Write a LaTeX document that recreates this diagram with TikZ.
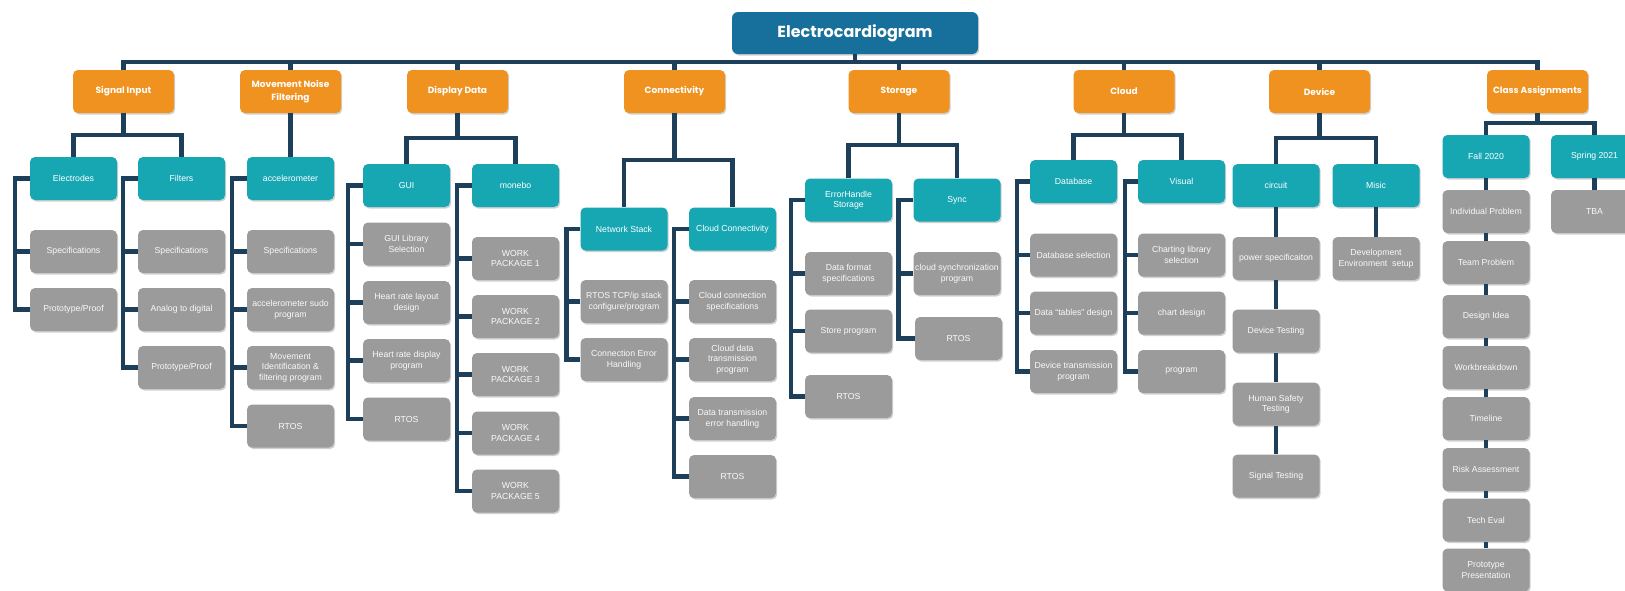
\documentclass[tikz,border=0pt]{standalone}
\usepackage{fontspec}
\setmainfont{Liberation Sans}
\newfontfamily\hdrfont{Poppins}
\usetikzlibrary{shadows,calc}
\definecolor{orng}{HTML}{F0921F}
\definecolor{tealc}{HTML}{17A7B3}
\definecolor{gry}{HTML}{9B9B9B}
\definecolor{navy}{HTML}{1E3F5A}
\definecolor{ttl}{HTML}{17709B}
\begin{document}
\begin{tikzpicture}[x=1pt,y=-1pt,
  box/.style={rounded corners=5pt, minimum width=87pt, minimum height=43pt, inner sep=1pt, align=center,
    text=white, font=\fontsize{8.7}{10.5}\selectfont,
    drop shadow={shadow xshift=1.2pt, shadow yshift=-1.5pt, opacity=0.3, fill=black!60}},
  hdr/.style={box, fill=orng, minimum width=101pt, font=\hdrfont\bfseries\fontsize{9}{12.5}\selectfont},
  sub/.style={box, fill=tealc},
  leaf/.style={box, fill=gry, text=white!95!gray},
  ttlbox/.style={box, fill=ttl, rounded corners=6pt, minimum width=246pt, minimum height=42pt,
    font=\hdrfont\bfseries\fontsize{16}{18}\selectfont},
  conn/.style={draw=navy, line width=4.5pt, line join=miter}]
\useasboundingbox (0,0) rectangle (1625,590);
\clip (0,0) rectangle (1625,590);
\fill[white] (0,0) rectangle (1625,590);

% title
\node[ttlbox] (ecg) at (855,33) {Electrocardiogram};

% headers
\node[hdr] (si) at (123.5,91.5) {Signal Input};
\node[hdr] (mn) at (290.5,91.5) {Movement Noise\\Filtering};
\node[hdr] (dd) at (457.5,91.5) {Display Data};
\node[hdr] (cn) at (674.5,91.5) {Connectivity};
\node[hdr] (st) at (899,91.5) {Storage};
\node[hdr] (cl) at (1124,91.5) {Cloud};
\node[hdr] (dv) at (1319.5,91.5) {Device};
\node[hdr] (ca) at (1537.5,91.5) {Class Assignments};

% second level
\node[sub] (el) at (73.5,178.5) {Electrodes};
\node[sub] (fi) at (181.5,178.5) {Filters};
\node[sub] (acc) at (290.5,178.5) {accelerometer};
\node[sub] (gui) at (406.5,185.5) {GUI};
\node[sub] (mon) at (515.5,185.5) {monebo};
\node[sub] (ns) at (624,229) {Network Stack};
\node[sub] (cc) at (732.5,229) {Cloud Connectivity};
\node[sub] (eh) at (848.5,200) {ErrorHandle\\Storage};
\node[sub] (sy) at (957,200) {Sync};
\node[sub] (db) at (1073.5,181.5) {Database};
\node[sub] (vi) at (1181.5,181.5) {Visual};
\node[sub] (ci) at (1276,185.5) {circuit};
\node[sub] (mi) at (1376,185.5) {Misic};
\node[sub] (fa) at (1486,156.5) {Fall 2020};
\node[sub] (sp) at (1594.5,156.5) {Spring 2021};

% leaves: Electrodes
\node[leaf] (el1) at (73.5,251.5) {Specifications};
\node[leaf] (el2) at (73.5,309.5) {Prototype/Proof};
% Filters
\node[leaf] (fi1) at (181.5,251.5) {Specifications};
\node[leaf] (fi2) at (181.5,309.5) {Analog to digital};
\node[leaf] (fi3) at (181.5,367.5) {Prototype/Proof};
% accelerometer
\node[leaf] (ac1) at (290.5,251.5) {Specifications};
\node[leaf] (ac2) at (290.5,309.5) {accelerometer sudo\\program};
\node[leaf] (ac3) at (290.5,367.5) {Movement\\Identification \&\\filtering program};
\node[leaf] (ac4) at (290.5,426) {RTOS};
% GUI
\node[leaf] (gu1) at (406.5,244) {GUI Library\\Selection};
\node[leaf] (gu2) at (406.5,302.5) {Heart rate layout\\design};
\node[leaf] (gu3) at (406.5,360.5) {Heart rate display\\program};
\node[leaf] (gu4) at (406.5,419) {RTOS};
% monebo
\node[leaf] (mo1) at (515.5,258.5) {WORK\\PACKAGE 1};
\node[leaf] (mo2) at (515.5,316.5) {WORK\\PACKAGE 2};
\node[leaf] (mo3) at (515.5,374.5) {WORK\\PACKAGE 3};
\node[leaf] (mo4) at (515.5,433) {WORK\\PACKAGE 4};
\node[leaf] (mo5) at (515.5,491) {WORK\\PACKAGE 5};
% Network Stack
\node[leaf] (ns1) at (624,301.5) {RTOS TCP/ip stack\\configure/program};
\node[leaf] (ns2) at (624,359.5) {Connection Error\\Handling};
% Cloud Connectivity
\node[leaf] (cc1) at (732.5,301.5) {Cloud connection\\specifications};
\node[leaf] (cc2) at (732.5,359.5) {Cloud data\\transmission\\program};
\node[leaf] (cc3) at (732.5,418.5) {Data transmission\\error handling};
\node[leaf] (cc4) at (732.5,476.5) {RTOS};
% ErrorHandle Storage
\node[leaf] (eh1) at (848.5,273.5) {Data format\\specifications};
\node[leaf] (eh2) at (848.5,331) {Store program};
\node[leaf] (eh3) at (848.5,396.5) {RTOS};
% Sync
\node[leaf] (sy1) at (957,273.5) {cloud synchronization\\program};
\node[leaf] (sy2) at (958.5,338.5) {RTOS};
% Database
\node[leaf] (db1) at (1073.5,255) {Database selection};
\node[leaf] (db2) at (1073.5,313) {Data “tables” design};
\node[leaf] (db3) at (1073.5,371.5) {Device transmission\\program};
% Visual
\node[leaf] (vi1) at (1181.5,255) {Charting library\\selection};
\node[leaf] (vi2) at (1181.5,313) {chart design};
\node[leaf] (vi3) at (1181.5,371.5) {program};
% circuit
\node[leaf] (ci1) at (1276,258.5) {power specificaiton};
\node[leaf] (ci2) at (1276,331) {Device Testing};
\node[leaf] (ci3) at (1276,404) {Human Safety\\Testing};
\node[leaf] (ci4) at (1276,476) {Signal Testing};
% Misic
\node[leaf] (mi1) at (1376,258.5) {Development\\Environment\ \ setup};
% Fall 2020
\node[leaf] (fa1) at (1486,211.5) {Individual Problem};
\node[leaf] (fa2) at (1486,262.5) {Team Problem};
\node[leaf] (fa3) at (1486,316.5) {Design Idea};
\node[leaf] (fa4) at (1486,367.5) {Workbreakdown};
\node[leaf] (fa5) at (1486,418.5) {Timeline};
\node[leaf] (fa6) at (1486,469.5) {Risk Assessment};
\node[leaf] (fa7) at (1486,520) {Tech Eval};
\node[leaf] (fa8) at (1486,570) {Prototype\\Presentation};
% Spring 2021
\node[leaf] (sp1) at (1594.5,211.5) {TBA};

% ---------- connectors ----------
\coordinate (bus) at (0,62);
\draw[conn] (si.north) -- (si.north|-bus) -- (ca.north|-bus) -- (ca.north);
\foreach \n in {mn,dd,cn,st,cl,dv} \draw[conn] (\n.north) -- (\n.north|-bus);
\draw[conn] (ecg.south) -- (ecg.south|-bus);

% header -> children
\draw[conn] (si.south) -- (si.south|-0,135);
\draw[conn] (el.north) |- (si.south|-0,135) -| (fi.north);
\draw[conn] (mn.south) -- (acc.north);
\draw[conn] (dd.south) -- (dd.south|-0,138);
\draw[conn] (gui.north) |- (dd.south|-0,138) -| (mon.north);
\draw[conn] (cn.south) -- (cn.south|-0,160);
\draw[conn] (ns.north) |- (cn.south|-0,160) -| (cc.north);
\draw[conn] (st.south) -- (st.south|-0,145);
\draw[conn] (eh.north) |- (st.south|-0,145) -| (sy.north);
\draw[conn] (cl.south) -- (cl.south|-0,135);
\draw[conn] (db.north) |- (cl.south|-0,135) -| (vi.north);
\draw[conn] (dv.south) -- (dv.south|-0,138);
\draw[conn] (ci.north) |- (dv.south|-0,138) -| (mi.north);
\draw[conn] (ca.south) -- (ca.south|-0,123);
\draw[conn] (fa.north) |- (ca.south|-0,123) -| (sp.north);

% sidebars
\draw[conn] (el.west) -- ++(-15,0) |- (el2.west);
\draw[conn] (el1.west) -- ++(-15,0);
\draw[conn] (fi.west) -- ++(-15,0) |- (fi3.west);
\foreach \c in {fi1,fi2} \draw[conn] (\c.west) -- ++(-15,0);
\draw[conn] (acc.west) -- ++(-15,0) |- (ac4.west);
\foreach \c in {ac1,ac2,ac3} \draw[conn] (\c.west) -- ++(-15,0);
\draw[conn] (gui.west) -- ++(-15,0) |- (gu4.west);
\foreach \c in {gu1,gu2,gu3} \draw[conn] (\c.west) -- ++(-15,0);
\draw[conn] (mon.west) -- ++(-15,0) |- (mo5.west);
\foreach \c in {mo1,mo2,mo3,mo4} \draw[conn] (\c.west) -- ++(-15,0);
\draw[conn] (ns.west) -- ++(-14,0) |- (ns2.west);
\draw[conn] (ns1.west) -- ++(-14,0);
\draw[conn] (cc.west) -- ++(-15,0) |- (cc4.west);
\foreach \c in {cc1,cc2,cc3} \draw[conn] (\c.west) -- ++(-15,0);
\draw[conn] (eh.west) -- ++(-14,0) |- (eh3.west);
\foreach \c in {eh1,eh2} \draw[conn] (\c.west) -- ++(-14,0);
\draw[conn] (sy.west) -- ++(-15,0) |- (sy2.west);
\draw[conn] (sy1.west) -- ++(-15,0);
\draw[conn] (db.west) -- ++(-13,0) |- (db3.west);
\foreach \c in {db1,db2} \draw[conn] (\c.west) -- ++(-13,0);
\draw[conn] (vi.west) -- ++(-13,0) |- (vi3.west);
\foreach \c in {vi1,vi2} \draw[conn] (\c.west) -- ++(-13,0);

% vertical chains
\draw[conn] (ci.south) -- (ci1.north);
\draw[conn] (ci1.south) -- (ci2.north);
\draw[conn] (ci2.south) -- (ci3.north);
\draw[conn] (ci3.south) -- (ci4.north);
\draw[conn] (mi.south) -- (mi1.north);
\draw[conn] (fa.south) -- (fa1.north);
\draw[conn] (fa1.south) -- (fa2.north);
\draw[conn] (fa2.south) -- (fa3.north);
\draw[conn] (fa3.south) -- (fa4.north);
\draw[conn] (fa4.south) -- (fa5.north);
\draw[conn] (fa5.south) -- (fa6.north);
\draw[conn] (fa6.south) -- (fa7.north);
\draw[conn] (fa7.south) -- (fa8.north);
\draw[conn] (sp.south) -- (sp1.north);
\end{tikzpicture}
\end{document}
